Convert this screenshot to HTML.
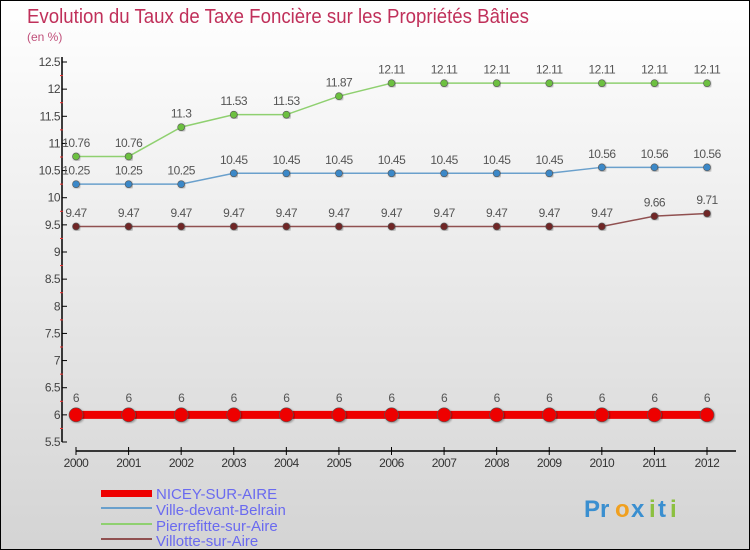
<!DOCTYPE html>
<html><head><meta charset="utf-8"><style>
body{margin:0}
#c{width:748px;height:548px;border:1px solid #000;background:linear-gradient(#fff,#d4d4d4);position:relative;overflow:hidden;font-family:"Liberation Sans",sans-serif}
</style></head><body>
<div id="c">
<svg id="s" width="748" height="548" xmlns="http://www.w3.org/2000/svg" style="position:absolute;left:0;top:0">
<defs><filter id="sh"><feDropShadow dx="1" dy="1" stdDeviation="1" flood-opacity="0.35"/></filter></defs>
<text x="26" y="22" font-size="20" fill="#c0305a" textLength="502" lengthAdjust="spacingAndGlyphs">Evolution du Taux de Taxe Foncière sur les Propriétés Bâties</text>
<text x="26" y="40" font-size="12" fill="#c0507a">(en %)</text>
<g id="axes"></g><g id="series"></g>
<g>
<rect x="100" y="489" width="51" height="7" fill="#e00"/>
<line x1="100" y1="507" x2="151" y2="507" stroke="#6aa0cc" stroke-width="2"/>
<line x1="100" y1="523" x2="151" y2="523" stroke="#8fd070" stroke-width="2"/>
<line x1="100" y1="538" x2="151" y2="538" stroke="#905050" stroke-width="2"/>
<g font-size="15" fill="#6a6af0">
<text x="155" y="498">NICEY-SUR-AIRE</text>
<text x="155" y="514">Ville-devant-Belrain</text>
<text x="155" y="530">Pierrefitte-sur-Aire</text>
<text x="155" y="545">Villotte-sur-Aire</text>
</g></g>
<g font-size="24" font-weight="bold">
<text x="583" y="516" fill="#3a8fd0">Pr</text><text x="614" y="516" fill="#f0a020">o</text><text x="630" y="516" fill="#3a8fd0">x</text><text x="648" y="516" fill="#8cc040">i</text><text x="657" y="516" fill="#3a8fd0">t</text><text x="669" y="516" fill="#8cc040">i</text>
</g>
</svg></div>
<script>
const years=[2000,2001,2002,2003,2004,2005,2006,2007,2008,2009,2010,2011,2012];
const yTicks=[5.5,6,6.5,7,7.5,8,8.5,9,9.5,10,10.5,11,11.5,12,12.5];
const nicey=[6,6,6,6,6,6,6,6,6,6,6,6,6];
const ville=[10.25,10.25,10.25,10.45,10.45,10.45,10.45,10.45,10.45,10.45,10.56,10.56,10.56];
const pierre=[10.76,10.76,11.3,11.53,11.53,11.87,12.11,12.11,12.11,12.11,12.11,12.11,12.11];
const villotte=[9.47,9.47,9.47,9.47,9.47,9.47,9.47,9.47,9.47,9.47,9.47,9.66,9.71];
const NS="http://www.w3.org/2000/svg";
const X=i=>75+i*(706-75)/12;
const Y=v=>441-(v-5.5)*(441-61)/7;
function mk(t,a,p){const e=document.createElementNS(NS,t);for(const k in a)e.setAttribute(k,a[k]);p.appendChild(e);return e;}
const ax=document.getElementById('axes');
let l=mk('line',{x1:61,y1:56,x2:61,y2:441,stroke:'#000','stroke-width':1.5},ax);

yTicks.forEach(v=>{mk('line',{x1:61,y1:Y(v),x2:66,y2:Y(v),stroke:'#000'},ax);
 if(v<12.5)mk('line',{x1:59,y1:Y(v+0.25),x2:62,y2:Y(v+0.25),stroke:'#e33'},ax);
 const t=mk('text',{x:59,y:Y(v)+4,'text-anchor':'end','font-size':12,fill:'#444','letter-spacing':'-0.5'},ax);t.textContent=v;
 });
l=mk('line',{x1:75,y1:450,x2:735,y2:450,stroke:'#000','stroke-width':1.5},ax);

years.forEach((y,i)=>{mk('line',{x1:X(i),y1:446,x2:X(i),y2:454,stroke:'#000'},ax);
 const t=mk('text',{x:X(i),y:466,'text-anchor':'middle','font-size':12,fill:'#333','letter-spacing':'-0.5'},ax);t.textContent=y;
 });
const sg=document.getElementById('series');
function series(name,vals,col,w,r,fill){
 const g=mk('g',{},sg);
 mk('polyline',{points:vals.map((v,i)=>X(i)+','+Y(v)).join(' '),fill:'none',stroke:col,'stroke-width':w},g);
 vals.forEach((v,i)=>{const c=mk('circle',{cx:X(i),cy:Y(v),r:r,fill:fill,stroke:'#555','stroke-width':0.6,filter:'url(#sh)'},g);
  
  const t=mk('text',{x:X(i),y:Y(v)-(r+6),'text-anchor':'middle','font-size':12,fill:'#555','letter-spacing':'-0.5'},g);t.textContent=v;
  });
}
series('series-villotte',villotte,'#905050',1.5,3.5,'#702828');
series('series-ville',ville,'#6aa0cc',1.5,3.5,'#3a88c8');
series('series-pierrefitte',pierre,'#8fd070',1.5,3.5,'#6cc040');
series('series-nicey',nicey,'#e00',8,7,'#e00');
</script>
</body></html>
